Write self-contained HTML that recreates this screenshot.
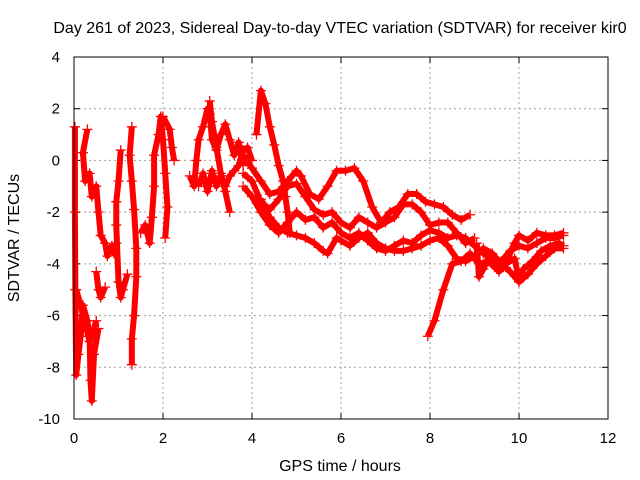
<!DOCTYPE html>
<html><head><meta charset="utf-8"><style>
html,body{margin:0;padding:0;background:#fff}
svg{display:block;font-family:"Liberation Sans",sans-serif}
</style></head><body>
<svg id="chart" width="640" height="480">
<text x="340" y="33" text-anchor="middle" font-size="16">Day 261 of 2023, Sidereal Day-to-day VTEC variation (SDTVAR) for receiver kir0</text>
<text transform="translate(19,238) rotate(-90)" text-anchor="middle" font-size="16">SDTVAR / TECUs</text>
<text x="340" y="471" text-anchor="middle" font-size="16">GPS time / hours</text>
<g id="grid"></g><g id="ticks"></g><g id="marks"></g>
<rect x="74" y="57" width="534" height="362" fill="none" stroke="#000" stroke-width="1"/>
</svg>
<script>
const xTicks=[0,2,4,6,8,10,12];
const yTicks=[4,2,0,-2,-4,-6,-8,-10];
const trackA1=[[0.02,1.3],[0.02,-2],[0.03,-5],[0.05,-8.3],[0.1,-7.5],[0.15,-6.8],[0.2,-5.6],[0.3,-6.2],[0.35,-6.8],[0.37,-8.5],[0.4,-9.3],[0.45,-7.5],[0.55,-6.5]];
const trackA2=[[0.05,-5.0],[0.15,-5.6],[0.25,-6.3],[0.35,-7.0],[0.4,-6.8],[0.5,-6.2]];
const trackA3=[[0.3,1.2],[0.2,0.3],[0.25,-0.8],[0.35,-0.5],[0.4,-1.4],[0.5,-1.0],[0.55,-2.0],[0.6,-2.9],[0.7,-3.2],[0.75,-3.7],[0.85,-3.3],[0.9,-3.6],[0.95,-3.2]];
const trackA4=[[0.5,-4.3],[0.55,-5.0],[0.6,-5.3],[0.7,-4.9]];
const trackA5=[[1.05,0.4],[1.0,-0.8],[0.95,-1.6],[0.95,-2.5],[1.0,-4.7],[1.05,-5.3],[1.1,-5.0],[1.2,-4.4]];
const trackA6=[[1.3,1.3],[1.25,0.2],[1.3,-0.8],[1.35,-1.9],[1.4,-3.4],[1.4,-4.5],[1.35,-6.0],[1.3,-6.9],[1.3,-7.9]];
const trackA7=[[1.5,-2.8],[1.6,-2.5],[1.7,-3.2],[1.75,-2.2],[1.8,-1.0],[1.8,0.2],[1.9,1.0],[1.95,1.7],[2.0,0.8],[2.05,-0.5],[2.1,-1.8],[2.05,-3.0]];
const trackA8=[[2.0,1.7],[2.15,1.2],[2.2,0.5],[2.25,0.0]];
const trackB1=[[2.6,-0.6],[2.7,-1.0],[2.75,0.0],[2.8,0.8],[2.9,1.3],[3.0,2.0],[3.05,1.8],[3.1,0.8],[3.2,0.4],[3.3,1.0],[3.4,1.4],[3.5,0.8],[3.6,0.2],[3.7,0.7],[3.75,0.3],[3.8,-0.2]];
const trackB2=[[2.8,-1.0],[2.9,-0.5],[3.0,-1.2],[3.1,-0.4],[3.2,-1.0],[3.3,-0.6],[3.4,-1.0],[3.5,-0.6],[3.6,-0.4],[3.7,-0.2],[3.8,0.4],[3.9,0.5],[4.0,0.0]];
const trackB3=[[3.05,2.3],[3.1,1.5],[3.2,0.5],[3.3,-0.5],[3.4,-1.2],[3.5,-2.0]];
const trackB4=[[4.1,1.0],[4.2,2.7],[4.3,2.2],[4.4,1.3],[4.5,0.6],[4.6,-0.2],[4.7,-0.8],[4.75,-1.4],[4.8,-2.0],[4.85,-2.8]];
const trackP=[[3.8,0.2],[4.0,-0.3],[4.2,-0.8],[4.4,-1.3],[4.6,-1.2],[4.8,-0.8],[5.0,-0.4],[5.1,-0.6],[5.3,-1.3],[5.5,-1.5],[5.7,-1.0],[5.9,-0.4],[6.1,-0.4],[6.3,-0.3],[6.5,-0.8],[6.7,-1.8],[6.9,-2.4],[7.1,-2.0],[7.3,-1.8],[7.5,-1.3],[7.7,-1.3],[7.9,-1.6],[8.1,-1.7],[8.3,-1.8],[8.5,-2.1],[8.7,-2.3],[8.9,-2.1]];
const trackQ=[[3.8,-0.5],[4.0,-0.8],[4.2,-1.6],[4.4,-1.9],[4.6,-1.5],[4.8,-1.0],[5.0,-0.9],[5.2,-1.4],[5.4,-1.9],[5.6,-2.1],[5.8,-2.0],[6.0,-2.4],[6.2,-2.6],[6.4,-2.2],[6.6,-2.4],[6.8,-2.6],[7.0,-2.4],[7.2,-2.2],[7.4,-1.7],[7.6,-1.7],[7.8,-2.0],[8.0,-2.5],[8.2,-2.4],[8.4,-2.4],[8.6,-2.8],[8.8,-3.2],[9.0,-3.0]];
const trackR=[[3.8,-1.0],[4.0,-1.4],[4.2,-2.0],[4.4,-2.5],[4.6,-2.8],[4.8,-2.4],[5.0,-2.0],[5.2,-2.3],[5.4,-2.2],[5.6,-2.6],[5.8,-2.4],[6.0,-2.8],[6.2,-3.0],[6.4,-2.8],[6.6,-3.1],[6.8,-3.4],[7.0,-3.5],[7.2,-3.3],[7.4,-3.1],[7.6,-3.2],[7.8,-2.9],[8.0,-2.7],[8.2,-2.8],[8.4,-3.0],[8.6,-2.9],[8.8,-3.0],[9.0,-3.3],[9.2,-3.6],[9.4,-3.8],[9.6,-3.9],[9.8,-3.5],[10.0,-3.3],[10.2,-3.4],[10.4,-3.2],[10.6,-3.0],[10.8,-3.0],[11.0,-2.9]];
const trackS=[[4.2,-1.5],[4.4,-2.2],[4.6,-2.6],[4.8,-2.8],[5.0,-2.9],[5.2,-3.0],[5.4,-3.2],[5.6,-3.5],[5.7,-3.6],[5.9,-3.0],[6.0,-3.1],[6.2,-3.3],[6.4,-3.0],[6.6,-2.8],[6.8,-3.2],[7.0,-3.4],[7.2,-3.5],[7.4,-3.5],[7.6,-3.4],[7.8,-3.3],[8.0,-3.1],[8.2,-3.0],[8.4,-3.3],[8.6,-3.8],[8.8,-3.9],[9.0,-3.7],[9.2,-3.4],[9.4,-3.6],[9.6,-4.0],[9.8,-4.3],[10.0,-4.7],[10.2,-4.4],[10.4,-4.0],[10.6,-3.7],[10.8,-3.4],[11.0,-3.4]];
const trackT=[[7.95,-6.8],[8.1,-6.2],[8.3,-5.0],[8.5,-4.0],[8.7,-3.9],[8.9,-3.6],[9.1,-4.0],[9.3,-3.9],[9.5,-4.2],[9.7,-4.0],[9.9,-3.2],[10.0,-2.9],[10.2,-3.1],[10.4,-2.8],[10.6,-2.9],[10.8,-2.9],[11.0,-2.8]];
const trackU=[[9.05,-3.2],[9.1,-4.5],[9.2,-4.2],[9.35,-3.6],[9.45,-3.8],[9.55,-4.3],[9.7,-4.0],[9.9,-3.8],[10.0,-4.6],[10.1,-4.2],[10.3,-3.9],[10.5,-3.5],[10.7,-3.3],[10.9,-3.2],[11.0,-3.3]];
const tracks=[trackA1,trackA2,trackA3,trackA4,trackA5,trackA6,trackA7,trackA8,trackB1,trackB2,trackB3,trackB4,trackP,trackQ,trackR,trackS,trackT,trackU];

const X0=74,X1=608,Y0=419,Y1=57;
function xs(t){return X0+(t-0)/(12-0)*(X1-X0);}
function ys(v){return Y0-(v+10)/(4+10)*(Y0-Y1);}
const NS='http://www.w3.org/2000/svg';
const grid=document.getElementById('grid'),ticks=document.getElementById('ticks'),marks=document.getElementById('marks');
function mk(tag,attrs,parent){const e=document.createElementNS(NS,tag);for(const k in attrs)e.setAttribute(k,attrs[k]);parent.appendChild(e);return e;}
xTicks.forEach(t=>{
  const x=xs(t);
  if(t>0&&t<12){const g=mk('line',{x1:x,x2:x,y1:Y1,y2:Y0,stroke:'#a0a0a0','stroke-dasharray':'2,3'},grid);
  
  }
  mk('line',{x1:x,x2:x,y1:Y0,y2:Y0-6,stroke:'#000'},ticks);
  mk('line',{x1:x,x2:x,y1:Y1,y2:Y1+6,stroke:'#000'},ticks);
  const l=mk('text',{x:x,y:443,'text-anchor':'middle','font-size':'15'},ticks);l.textContent=t;
  
  
});
yTicks.forEach(v=>{
  const y=ys(v);
  if(v>-10&&v<4){const g=mk('line',{x1:X0,x2:X1,y1:y,y2:y,stroke:'#a0a0a0','stroke-dasharray':'2,3'},grid);
  
  }
  mk('line',{x1:X0,x2:X0+6,y1:y,y2:y,stroke:'#000'},ticks);
  mk('line',{x1:X1,x2:X1-6,y1:y,y2:y,stroke:'#000'},ticks);
  const l=mk('text',{x:60,y:y+5,'text-anchor':'end','font-size':'15'},ticks);l.textContent=v;
  
  
});
tracks.forEach((tr,i)=>{
  const p=mk('polyline',{points:tr.map(d=>xs(d[0])+','+ys(d[1])).join(' '),fill:'none',stroke:'#f00','stroke-width':'6','stroke-linejoin':'round'},marks);
  
  
  tr.forEach(d=>{
    const x=xs(d[0]),y=ys(d[1]);
    const m=mk('path',{d:'M'+(x-5)+','+y+'h10M'+x+','+(y-5)+'v10',stroke:'#f00','stroke-width':'1.3'},marks);
    
    
  });
});
</script>
</body></html>
